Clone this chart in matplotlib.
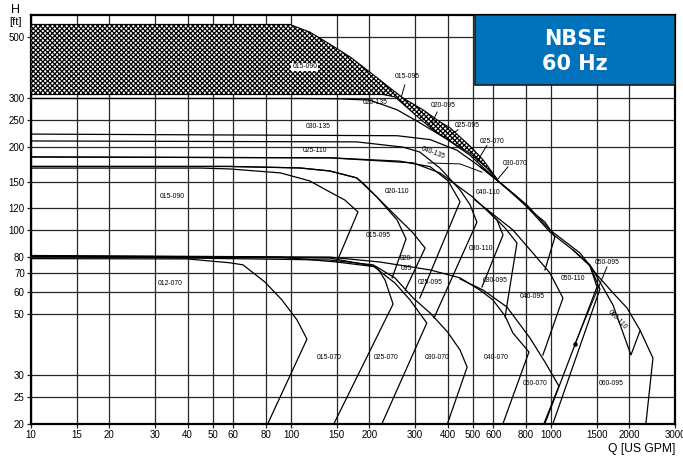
import matplotlib.pyplot as plt
from matplotlib.patches import Polygon, Rectangle
from matplotlib.ticker import NullLocator, FixedLocator, FixedFormatter

plt.rcParams['font.family'] = ['Liberation Sans', 'DejaVu Sans']
plt.rcParams['hatch.linewidth'] = 0.9

# axis ticks
q_ticks = [10, 15, 20, 30, 40, 50, 60, 80, 100, 150, 200, 300, 400, 500, 600,
           800, 1000, 1500, 2000, 3000]
h_ticks = [20, 25, 30, 50, 60, 70, 80, 100, 120, 150, 200, 250, 300, 500]

# hatched shutoff band (upper edge, then lower edge going back)
band_top_q = [10, 99, 118, 141, 169, 201, 240, 270, 322, 374, 409, 488, 548, 625]
band_top_h = [556, 556, 522, 472, 424, 374, 328, 301, 273, 247, 235, 202, 180, 152]
band_bot_q = [567, 488, 420, 352, 295, 251, 226, 10]
band_bot_h = [168, 190, 207, 231, 266, 304, 310, 310]

# pump curves, each ending with the line back from the end point
q_020_135 = [10, 108, 154, 201, 256, 313, 400, 488, 625]
h_020_135 = [300, 300, 299, 296, 273, 245, 213, 187, 151]
q_030_135 = [10, 256, 343, 435, 533, 625]
h_030_135 = [223, 220, 213, 195, 170, 151]
q_040_135 = [10, 179, 270, 313, 374, 447, 488, 519, 355]
h_040_135 = [210.6, 209, 200, 192, 168, 140, 124, 107, 48.2]
q_020_110 = [10, 141, 262, 343, 402, 447, 313]
h_020_110 = [184.3, 183, 178, 170, 151, 127, 56.9]
q_030_110 = [10, 141, 295, 374, 500, 620, 654, 543]
h_030_110 = [184.3, 183, 175.4, 161.4, 132, 109, 96.2, 62.4]
q_015_090 = [10, 45, 58, 91, 118, 141, 161, 181, 150]
h_015_090 = [168, 168, 166.8, 161.4, 151, 137.7, 128.8, 116.6, 76.8]
q_015_095 = [10, 58, 108, 141, 179, 214, 256, 277, 245]
h_015_095 = [170.3, 170.3, 168.2, 164, 154.8, 132, 109, 93.1, 67.3]
q_020_095 = [10, 58, 108, 141, 179, 189, 240, 295, 328, 275]
h_020_095 = [170.3, 170.3, 168.2, 164, 154.8, 148.4, 118.5, 97.8, 86.3, 60.8]
q_040_110 = [533, 625, 727, 830, 948, 1036, 948]
h_040_110 = [170, 151, 134.3, 118.5, 107.2, 94.6, 71.9]
q_060_095 = [625, 808, 991, 1152, 1293, 1503, 1732, 1960, 2199, 2468, 2319]
h_060_095 = [151, 123.6, 100.3, 90, 82.8, 69, 59.4, 52.4, 43.6, 34.5, 20]
q_060_110 = [625, 808, 991, 1215, 1413, 1543, 1732, 2031, 2199]
h_060_110 = [151, 122, 98.6, 84.9, 75, 65, 53.7, 35.4, 43.2]
q_050_110 = [1215, 1413, 1503, 948]
h_050_110 = [84.9, 74.3, 62.4, 20]
q_050_095 = [1413, 1543, 1018]
h_050_095 = [74.3, 61.3, 20]
q_040_095 = [510, 714, 852, 991, 1112, 931]
h_040_095 = [128.8, 100.3, 82.8, 70.1, 56.9, 35.4]
q_030_095 = [583, 666, 740, 666]
h_030_095 = [115.6, 102, 90, 48.6]
q_012_070 = [10, 40, 58.3, 65.4, 79.4, 92.3, 105.5, 115.2, 81.5]
h_012_070 = [79, 78.8, 76.3, 75, 65, 56, 47.4, 40.4, 20]
q_015_070 = [10, 90.7, 150, 214, 230, 247, 146.4]
h_015_070 = [80.8, 80, 76.8, 73.7, 66.1, 54.1, 20]
q_025_070 = [10, 141, 207, 251, 287, 333, 224]
h_025_070 = [80.4, 79.4, 74.3, 64.5, 56, 46.2, 20]
q_030_070 = [10, 141, 207, 251, 295, 343, 400, 447, 476, 400]
h_030_070 = [80.8, 78.1, 75, 67.3, 56.9, 50.2, 42.9, 36.9, 32, 20]
q_040_070 = [10, 141, 220, 343, 447, 533, 598, 666, 714, 823, 654]
h_040_070 = [81.1, 80, 76.8, 71.9, 67.3, 60.8, 56, 49, 42.5, 36.3, 20]
q_050_070 = [447, 548, 677, 830, 948, 1073, 940]
h_050_070 = [66.7, 60.8, 52.8, 40.8, 33.4, 27.3, 20]

curves = [
    (q_020_135, h_020_135), (q_030_135, h_030_135), (q_040_135, h_040_135),
    (q_020_110, h_020_110), (q_030_110, h_030_110), (q_015_090, h_015_090),
    (q_015_095, h_015_095), (q_020_095, h_020_095), (q_040_110, h_040_110),
    (q_060_095, h_060_095), (q_060_110, h_060_110), (q_050_110, h_050_110),
    (q_050_095, h_050_095), (q_040_095, h_040_095), (q_030_095, h_030_095),
    (q_012_070, h_012_070), (q_015_070, h_015_070), (q_025_070, h_025_070),
    (q_030_070, h_030_070), (q_040_070, h_040_070), (q_050_070, h_050_070),
]

# model labels: text, Q, H, rotation
labels = [
    ('015-095', 279, 359, 0), ('020-135', 210, 291, 0),
    ('020-095', 384, 284, 0), ('025-095', 476, 240, 0),
    ('025-070', 593, 209, 0), ('030-070', 727, 174, 0),
    ('030-135', 127, 237, 0), ('025-110', 124, 194, 0),
    ('040-135', 352, 190, -20), ('015-090', 34.8, 133, 0),
    ('020-110', 256, 138, 0), ('040-110', 573, 137, 0),
    ('015-095', 216, 95.4, 0), ('020-\n095', 279, 76, 0),
    ('025-095', 343, 65, 0), ('030-110', 538, 86.3, 0),
    ('030-095', 609, 65.6, 0), ('040-095', 845, 57.4, 0),
    ('050-110', 1215, 66.7, 0), ('050-095', 1642, 76.8, 0),
    ('060-110', 1794, 47.4, -46), ('012-070', 34.2, 64, 0),
    ('015-070', 140, 34.8, 0), ('025-070', 232, 34.8, 0),
    ('030-070', 365, 34.8, 0), ('040-070', 614, 34.8, 0),
    ('050-070', 868, 27.8, 0), ('060-095', 1702, 27.8, 0),
]

# leader lines from labels to their curves
leaders = [
    ([274, 266], [336, 305]),
    ([365, 349], [268, 245]),
    ([439, 409], [231, 221]),
    ([567, 519], [203, 176.8]),
    ([683, 625], [169.6, 153.5]),
    ([336.5, 447, 543], [175.4, 173.9, 162.4]),
    ([1642, 1237], [73.7, 38.8]),
]

fig = plt.figure(figsize=(6.83, 4.57), dpi=100)
ax = fig.add_axes([31 / 683, 1 - 423.5 / 457, 644 / 683, 408.8 / 457])
ax.set_xscale('log')
ax.set_yscale('log')
ax.set_xlim(10, 3000)
ax.set_ylim(20, 603)

ax.xaxis.set_major_locator(FixedLocator(q_ticks))
ax.xaxis.set_major_formatter(FixedFormatter([str(t) for t in q_ticks]))
ax.yaxis.set_major_locator(FixedLocator(h_ticks))
ax.yaxis.set_major_formatter(FixedFormatter([str(t) for t in h_ticks]))
ax.xaxis.set_minor_locator(NullLocator())
ax.yaxis.set_minor_locator(NullLocator())
ax.grid(True, which='major', color='#262626', lw=0.9)
ax.set_axisbelow(True)
ax.tick_params(length=3, width=0.9, labelsize=7, pad=1.5, color='#222')
for s in ax.spines.values():
    s.set_linewidth(1.6)

band = Polygon(list(zip(band_top_q + band_bot_q, band_top_h + band_bot_h)),
               closed=True, facecolor='white', edgecolor='black',
               hatch='xxxxxxx', lw=0.8, zorder=3)
ax.add_patch(band)

for q, h in curves:
    ax.plot(q, h, color='black', lw=0.9, zorder=4)

for q, h in leaders:
    ax.plot(q, h, color='black', lw=0.7, zorder=4)
ax.plot(leaders[-1][0][-1], leaders[-1][1][-1], 'o', ms=2.2, color='black',
        zorder=4)

ax.text(113, 390, '015-090', fontsize=4.9, ha='center', va='center', zorder=6,
        bbox=dict(facecolor='white', edgecolor='none', pad=0.6))
for text, q, h, rot in labels:
    ax.text(q, h, text, fontsize=4.9, ha='center', va='center', rotation=rot,
            linespacing=1.6, zorder=6)

box = Rectangle((0.6894, 0.828), 0.3106, 0.172, transform=ax.transAxes,
                facecolor='#0071bb', edgecolor='#1a1a1a', lw=1.2, zorder=7)
ax.add_patch(box)
ax.text(0.8447, 0.9406, 'NBSE', transform=ax.transAxes, color='white',
        fontsize=15, fontweight='bold', family='DejaVu Sans',
        ha='center', va='center', zorder=8)
ax.text(0.8447, 0.8794, '60 Hz', transform=ax.transAxes, color='white',
        fontsize=15, fontweight='bold', family='DejaVu Sans',
        ha='center', va='center', zorder=8)

fig.text(15.5 / 683, 1 - 10 / 457, 'H', fontsize=9, ha='center', va='center')
fig.text(15 / 683, 1 - 22 / 457, '[ft]', fontsize=8, ha='center', va='center')
fig.text(675 / 683, 1 - 449 / 457, 'Q [US GPM]', fontsize=8.7, ha='right',
         va='center')

fig.savefig('out.png', dpi=100)
